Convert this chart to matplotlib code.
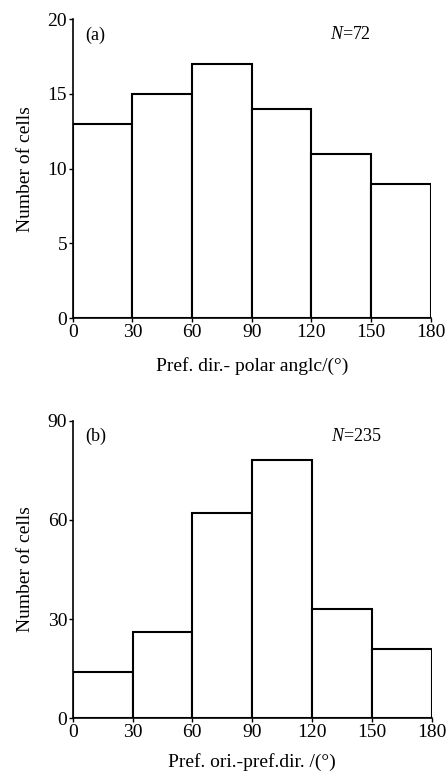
import matplotlib
matplotlib.use('Agg')
from matplotlib import pyplot as plt

plt.rcParams['font.family'] = ['Liberation Serif', 'DejaVu Serif']
plt.rcParams['mathtext.fontset'] = 'custom'
plt.rcParams['mathtext.it'] = 'Liberation Serif:italic'
plt.rcParams['mathtext.rm'] = 'Liberation Serif'

bin_edges = [0, 30, 60, 90, 120, 150, 180]
counts_a = [13, 15, 17, 14, 11, 9]
counts_b = [14, 26, 62, 78, 33, 21]
xticks = [0, 30, 60, 90, 120, 150, 180]
yticks_a = [0, 5, 10, 15, 20]
yticks_b = [0, 30, 60, 90]


def draw_hist(ax, counts, yticks, tag, n_text, xlabel, xpad):
    lefts = bin_edges[:-1]
    widths = [bin_edges[i + 1] - bin_edges[i] for i in range(len(lefts))]
    ax.bar(lefts, counts, width=widths, align='edge', color='white',
           edgecolor='black', linewidth=1.5)
    ax.set_xlim(0, 180)
    ax.set_ylim(0, yticks[-1])
    ax.set_xticks(xticks)
    ax.set_yticks(yticks)
    ax.spines['top'].set_visible(False)
    ax.spines['right'].set_visible(False)
    ax.spines['left'].set_linewidth(1.2)
    ax.spines['bottom'].set_linewidth(1.2)
    ax.tick_params(direction='out', length=3, width=1, labelsize=14, pad=1)
    ax.set_ylabel('Number of cells', fontsize=14, labelpad=10)
    ax.set_xlabel(xlabel, fontsize=14, labelpad=xpad)
    ax.text(0.035, 0.975, tag, transform=ax.transAxes, fontsize=13, va='top', ha='left')
    ax.text(0.72, 0.975, n_text, transform=ax.transAxes, fontsize=13, va='top', ha='left')


fig = plt.figure(figsize=(4.47, 7.76), dpi=100)
ax1 = fig.add_axes([0.1626, 0.5898, 0.801, 0.3857])
ax2 = fig.add_axes([0.1626, 0.0744, 0.803, 0.3835])

draw_hist(ax1, counts_a, yticks_a, '(a)', r'$N$=72', 'Pref. dir.- polar anglc/(°)', 12)
draw_hist(ax2, counts_b, yticks_b, '(b)', r'$N$=235', 'Pref. ori.-pref.dir. /(°)', 9)

fig.savefig('out.png', dpi=100)
